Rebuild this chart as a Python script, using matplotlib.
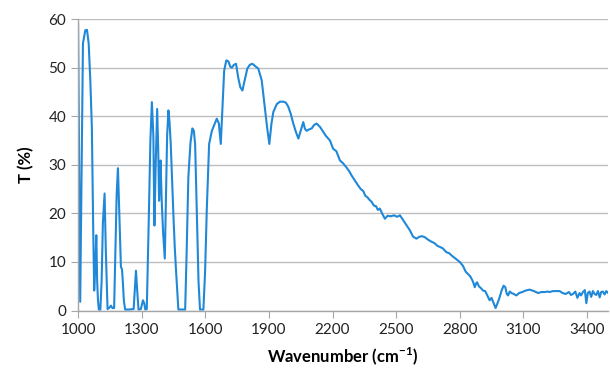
import matplotlib.pyplot as plt

# IR spectrum
wavenumber = [1000, 1010, 1023, 1034, 1042, 1050, 1058, 1065, 1071, 1076, 1081, 1086, 1090, 1094,
              1098, 1105, 1111, 1117, 1125, 1131, 1139, 1148, 1155, 1162, 1170, 1176, 1182, 1188,
              1193, 1202, 1207, 1211, 1216, 1222, 1240, 1262, 1268, 1273, 1279, 1285, 1296, 1306,
              1312, 1317, 1324, 1334, 1341, 1348, 1355, 1360, 1366, 1373, 1378, 1382, 1386, 1389,
              1394, 1401, 1409, 1415, 1420, 1426, 1431, 1437, 1444, 1450, 1456, 1462, 1473, 1490,
              1505, 1512, 1520, 1530, 1539, 1546, 1552, 1560, 1568, 1575, 1591, 1599, 1607, 1618,
              1631, 1643, 1654, 1664, 1673, 1680, 1689, 1699, 1709, 1718, 1725, 1735, 1745, 1755,
              1765, 1775, 1786, 1798, 1810, 1822, 1836, 1850, 1866, 1880, 1892, 1902, 1912, 1921,
              1937, 1952, 1968, 1980, 1991, 2003, 2015, 2027, 2039, 2050, 2062, 2070, 2078, 2090,
              2102, 2113, 2125, 2141, 2156, 2168, 2180, 2188, 2203, 2218, 2235, 2250, 2265, 2280,
              2290, 2305, 2320, 2333, 2345, 2355, 2365, 2374, 2384, 2395, 2405, 2414, 2423, 2436,
              2447, 2460, 2475, 2490, 2505, 2518, 2535, 2550, 2565, 2580, 2596, 2610, 2622, 2635,
              2650, 2665, 2680, 2695, 2706, 2720, 2737, 2750, 2765, 2780, 2800, 2815, 2828, 2839,
              2850, 2862, 2871, 2877, 2882, 2890, 2900, 2910, 2920, 2931, 2941, 2950, 2960, 2969,
              2978, 2988, 2998, 3007, 3015, 3022, 3028, 3036, 3044, 3055, 3067, 3080, 3095, 3110,
              3130, 3150, 3169, 3185, 3200, 3215, 3224, 3240, 3255, 3271, 3285, 3300, 3315, 3325,
              3334, 3345, 3355, 3365, 3372, 3381, 3390, 3397, 3404, 3412, 3420, 3428, 3436, 3444,
              3452, 3460, 3467, 3475, 3483, 3491, 3500]
transmittance = [59.0, 1.8, 55.0, 57.7, 57.8, 55.0, 47.0, 37.7, 18.0, 4.1, 9.0, 15.5, 6.0, 2.0,
                 0.2, 0.2, 6.0, 18.0, 24.1, 12.0, 0.3, 0.6, 1.0, 0.5, 0.5, 12.0, 24.0, 29.3,
                 22.0, 9.0, 8.5, 6.0, 2.0, 0.2, 0.2, 0.3, 4.5, 8.2, 4.0, 0.2, 0.3, 2.1,
                 1.5, 0.2, 0.3, 20.0, 35.0, 42.9, 36.0, 17.5, 30.0, 41.5, 33.0, 22.6, 27.0, 30.9,
                 23.0, 16.0, 10.7, 25.0, 36.0, 41.2, 39.0, 34.3, 26.0, 19.2, 13.0, 8.2, 0.2, 0.2,
                 0.2, 12.0, 27.4, 34.5, 37.5, 37.0, 34.3, 20.0, 6.0, 0.2, 0.2, 8.0, 20.8, 34.3,
                 37.0, 38.3, 39.5, 38.5, 34.3, 41.0, 49.4, 51.5, 51.3, 50.2, 50.0, 50.6, 50.8, 48.0,
                 46.0, 45.3, 47.5, 49.8, 50.6, 50.8, 50.3, 49.8, 47.4, 42.0, 37.5, 34.3, 38.5, 40.9,
                 42.5, 43.0, 43.0, 42.8, 42.0, 40.5, 38.5, 36.8, 35.4, 37.0, 38.8, 37.4, 37.0, 37.3,
                 37.5, 38.2, 38.5, 37.8, 36.8, 36.0, 35.4, 35.0, 33.3, 32.8, 30.9, 30.3, 29.5, 28.6,
                 27.8, 26.8, 25.8, 25.0, 24.6, 23.6, 23.3, 22.8, 22.4, 21.6, 21.5, 20.7, 21.0, 19.8,
                 18.9, 19.5, 19.4, 19.6, 19.3, 19.6, 18.5, 17.5, 16.5, 15.2, 14.8, 15.2, 15.3, 15.1,
                 14.6, 14.2, 13.9, 13.3, 13.1, 12.8, 12.0, 11.8, 11.2, 10.7, 10.0, 9.2, 8.0, 7.5,
                 7.0, 6.0, 4.8, 5.6, 5.8, 5.0, 4.6, 4.1, 4.0, 3.0, 2.1, 2.6, 1.5, 0.5,
                 1.5, 2.7, 4.2, 5.1, 4.8, 3.4, 3.1, 3.9, 3.6, 3.4, 3.1, 3.6, 3.8, 4.1,
                 4.3, 4.0, 3.6, 3.8, 3.8, 3.9, 3.8, 4.0, 4.0, 4.0, 3.6, 3.4, 3.8, 3.2,
                 3.4, 3.9, 2.6, 3.6, 3.1, 3.8, 4.2, 1.5, 3.6, 3.9, 2.8, 4.0, 3.4, 3.2,
                 4.0, 2.7, 3.8, 3.9, 3.3, 4.0, 3.6]

x_ticks = list(range(1000, 3401, 300))
y_ticks = list(range(0, 61, 10))

fig = plt.figure(figsize=(6.1, 3.75), dpi=100)
ax = fig.add_axes([0.128, 0.172, 0.869, 0.777])

ax.plot(wavenumber, transmittance, color='#2088D8', linewidth=1.5)

ax.set_xlim(1000, 3500)
ax.set_ylim(0, 60)
ax.set_xticks(x_ticks)
ax.set_yticks(y_ticks)

# Excel-like look: horizontal grid only, grey axis lines
ax.grid(axis='y', color='#BEBEBE', linewidth=1)
ax.set_axisbelow(True)
for side in ['top', 'right']:
    ax.spines[side].set_visible(False)
for side in ['left', 'bottom']:
    ax.spines[side].set_color('#A6A6A6')
    ax.spines[side].set_linewidth(1)
ax.tick_params(axis='both', direction='out', length=5, color='#A6A6A6',
               labelsize=11, labelcolor='#222222')
ax.tick_params(axis='x', pad=4)
for lab in ax.get_xticklabels() + ax.get_yticklabels():
    lab.set_fontfamily('Lato')

ax.set_xlabel('Wavenumber (cm$^{\\mathregular{-1}}$)', fontsize=12, fontweight='bold',
              fontfamily='Lato', labelpad=6)
ax.set_ylabel('T (%)', fontsize=12, fontweight='bold', fontfamily='Lato', labelpad=10)

fig.savefig('out.png', dpi=100, facecolor='white')
